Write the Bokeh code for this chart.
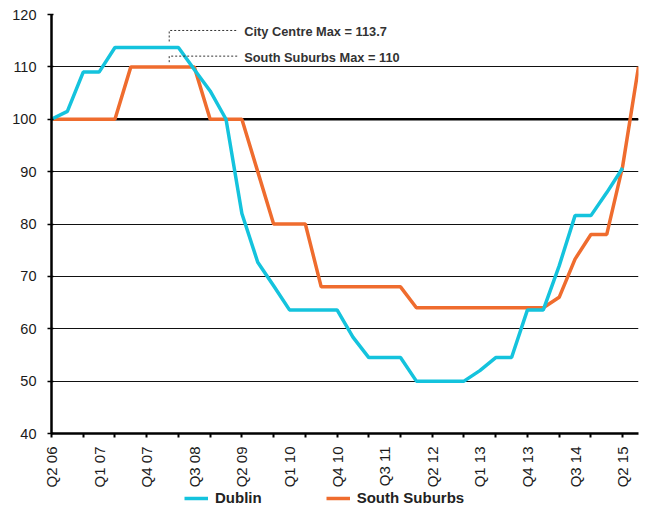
import math
from bokeh.plotting import figure
from bokeh.layouts import column
from bokeh.models import Range1d, FixedTicker, Span, Label, Legend, LegendItem
from bokeh.embed import file_html
from bokeh.resources import INLINE

# ---------------- data ----------------
quarters = ["Q2 06", "Q3 06", "Q4 06", "Q1 07", "Q2 07", "Q3 07", "Q4 07", "Q1 08",
            "Q2 08", "Q3 08", "Q4 08", "Q1 09", "Q2 09", "Q3 09", "Q4 09", "Q1 10",
            "Q2 10", "Q3 10", "Q4 10", "Q1 11", "Q2 11", "Q3 11", "Q4 11", "Q1 12",
            "Q2 12", "Q3 12", "Q4 12", "Q1 13", "Q2 13", "Q3 13", "Q4 13", "Q1 14",
            "Q2 14", "Q3 14", "Q4 14", "Q1 15", "Q2 15", "Q3 15"]

dublin = [100, 101.5, 109, 109, 113.7, 113.7, 113.7, 113.7, 113.7, 109.5,
          105.4, 100, 82, 72.7, 68.2, 63.6, 63.6, 63.6, 63.6, 58.4,
          54.5, 54.5, 54.5, 50, 50, 50, 50, 52, 54.5, 54.5,
          63.6, 63.6, 72, 81.6, 81.6, 86, 90.7]

south_suburbs = [100, 100, 100, 100, 100, 110, 110, 110, 110, 110,
                 100, 100, 100, 90, 80, 80, 80, 68, 68, 68,
                 68, 68, 68, 64, 64, 64, 64, 64, 64, 64,
                 64, 64, 66, 73.3, 78, 78, 91, 110]

y_ticks = [40, 50, 60, 70, 80, 90, 100, 110, 120]
label_step = 3   # category labels every 3rd quarter
tick_step = 2    # tick marks every 2nd quarter

idx_d = list(range(len(dublin)))
idx_s = list(range(len(south_suburbs)))
label_pos = list(range(0, len(quarters), label_step))
tick_pos = list(range(0, len(quarters), tick_step))

DUB_COLOR = "#14C3DD"
SS_COLOR = "#EF6C2E"
FONT = "Liberation Sans"

# ---------------- main chart ----------------
p = figure(width=640, height=490,
           x_range=Range1d(0, len(quarters) - 1), y_range=Range1d(40, 120),
           output_backend="svg", toolbar_location=None,
           min_border_left=51, min_border_right=2, min_border_top=14,
           min_border_bottom=57)
p.outline_line_color = None
p.background_fill_color = "white"
p.border_fill_color = "white"

p.xgrid.visible = False
p.ygrid.grid_line_color = "#111111"
p.ygrid.grid_line_width = 1
p.ygrid.ticker = FixedTicker(ticks=y_ticks)

# y axis
p.yaxis.ticker = FixedTicker(ticks=y_ticks)
p.yaxis.axis_line_width = 2.5
p.yaxis.axis_line_color = "black"
p.yaxis.major_tick_out = 4
p.yaxis.major_tick_in = 2
p.yaxis.major_tick_line_width = 1.5
p.yaxis.minor_tick_out = 0
p.yaxis.minor_tick_in = 0
p.yaxis.major_label_standoff = 11
p.yaxis.major_label_text_font = FONT
p.yaxis.major_label_text_font_size = "14.5px"
p.yaxis.major_label_text_color = "#1a1a1a"

# x axis
p.xaxis.ticker = FixedTicker(ticks=label_pos, minor_ticks=tick_pos)
p.xaxis.major_label_overrides = {i: quarters[i] for i in label_pos}
p.xaxis.major_label_orientation = math.pi / 2
p.xaxis.axis_line_width = 2.5
p.xaxis.axis_line_color = "black"
p.xaxis.major_tick_out = 0
p.xaxis.major_tick_in = 0
p.xaxis.minor_tick_out = 4
p.xaxis.minor_tick_in = 0
p.xaxis.minor_tick_line_width = 2
p.xaxis.minor_tick_line_color = "black"
p.xaxis.major_label_standoff = 9
p.xaxis.major_label_text_font = FONT
p.xaxis.major_label_text_font_size = "15px"
p.xaxis.major_label_text_color = "#1a1a1a"

# baseline at 100
p.add_layout(Span(location=100, dimension="width", line_color="black",
                  line_width=2.5, level="underlay"))

# series
p.line(idx_s, south_suburbs, line_color=SS_COLOR, line_width=3.5)
p.line(idx_d, dublin, line_color=DUB_COLOR, line_width=3.5)

# annotations (leader lines + text)
lead_x = 7.42
text_x = 12.15
end_x = 11.77
p.line([lead_x, lead_x, end_x], [114.85, 116.95, 116.95],
       line_color="#333333", line_width=1, line_dash="2 2")
p.line([lead_x, lead_x, end_x], [110.9, 112.05, 112.05],
       line_color="#333333", line_width=1, line_dash="2 2")
p.add_layout(Label(x=text_x, y=116.8, text=f"City Centre Max = {max(dublin)}",
                   text_baseline="middle", text_font=FONT, text_font_style="bold",
                   text_font_size="12.8px", text_color="#333333"))
p.add_layout(Label(x=text_x, y=111.75, text=f"South Suburbs Max = {max(south_suburbs):g}",
                   text_baseline="middle", text_font=FONT, text_font_style="bold",
                   text_font_size="12.8px", text_color="#333333"))

# ---------------- legend strip ----------------
lg = figure(width=640, height=16, x_range=Range1d(0, 1), y_range=Range1d(-1, 0),
            output_backend="svg", toolbar_location=None, min_border=0)
lg.axis.visible = False
lg.grid.visible = False
lg.outline_line_color = None
lg.background_fill_color = "white"
lg.border_fill_color = "white"
# series renderers for the legend swatches (data lies outside this strip's view)
lr_d = lg.line(idx_d, dublin, line_color=DUB_COLOR, line_width=3.5)
lr_s = lg.line(idx_s, south_suburbs, line_color=SS_COLOR, line_width=3.5)

legend = Legend(items=[LegendItem(label="Dublin", renderers=[lr_d]),
                       LegendItem(label="South Suburbs", renderers=[lr_s])],
                orientation="horizontal", location=(133, 0),
                border_line_color=None, background_fill_alpha=0,
                padding=0, margin=0, spacing=64, glyph_width=24,
                glyph_height=16, label_height=16,
                label_standoff=7, label_text_font=FONT,
                label_text_font_style="bold", label_text_font_size="15px",
                label_text_color="#222222")
lg.add_layout(legend, "center")

layout = column(p, lg, spacing=0)
open("out.html", "w").write(file_html(layout, INLINE))
